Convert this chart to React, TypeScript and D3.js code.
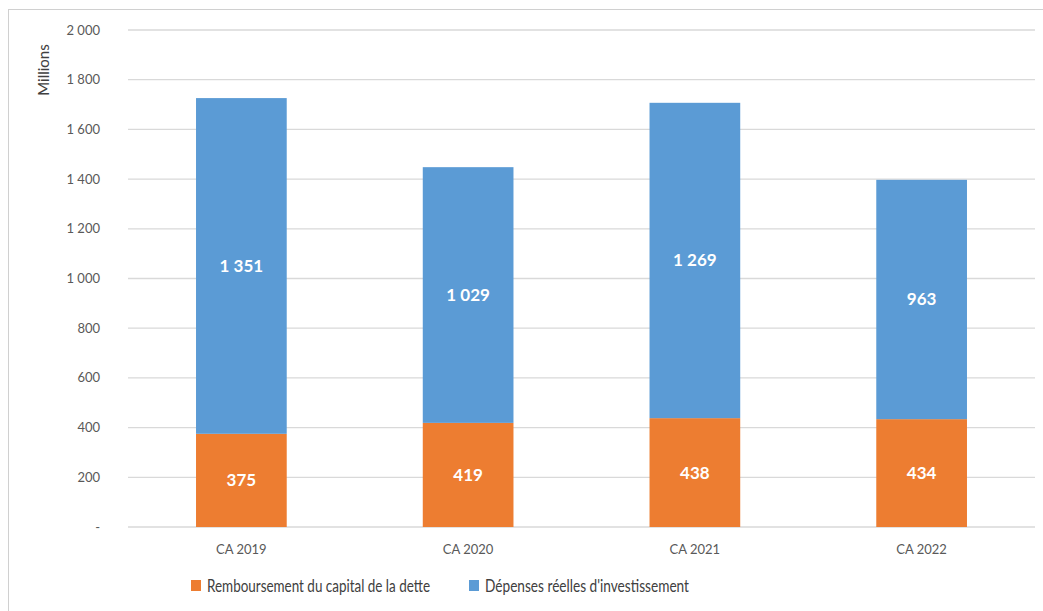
import React from 'react';
import * as d3 from 'd3';

const categories = ['CA 2019', 'CA 2020', 'CA 2021', 'CA 2022'];
const remboursement = [375, 419, 438, 434];
const depenses = [1351, 1029, 1269, 963];
const yTicks = [0, 200, 400, 600, 800, 1000, 1200, 1400, 1600, 1800, 2000];
const seriesNames = ['Remboursement du capital de la dette', "Dépenses réelles d'investissement"];
const colors = ['#ED7D31', '#5B9BD5'];

const W = 1043;
const H = 611;
const FONT = 'Lato, "Open Sans", sans-serif';

// french style thousands: "1 351"
const fmt = (v: number) => (v === 0 ? '-' : d3.format(',')(v).replace(/,/g, ' '));

export default function App() {
    const x = d3.scaleBand().domain(categories).range([128, 1035]).paddingInner(0.6).paddingOuter(0.3);
    const y = d3.scaleLinear().domain([0, 2000]).range([527, 30]);

    const rows = categories.map((c, i) => ({ cat: c, r: remboursement[i], d: depenses[i] }));
    const stacked = d3.stack<any>().keys(['r', 'd'])(rows);

    // legend: x position and text width
    const legend = [
        { x: 191, w: 223 },
        { x: 469, w: 204 },
    ];

    return (
        <svg width={W} height={H} style={{ position: 'absolute', left: 0, top: 0, background: '#fff' }}>
            <rect x={8.5} y={9.5} width={W} height={H} fill="#fff" stroke="#d0d0d0" />
            {yTicks.map(t => (
                <g key={t}>
                    <line x1={128} x2={1035} y1={y(t)} y2={y(t)} stroke="#d9d9d9" strokeWidth={1.3} />
                    <text x={100} y={y(t)} dy="0.35em" textAnchor="end" fontFamily={FONT} fontSize={13} fill="#595959">
                        {fmt(t)}
                    </text>
                </g>
            ))}
            <text transform="translate(49,70) rotate(-90)" textAnchor="middle" fontFamily={FONT} fontSize={15} fill="#404040">
                Millions
            </text>
            {stacked.map((s, si) => (
                <g key={si}>
                    {s.map((p, i) => (
                        <g key={i}>
                            <rect
                                x={x(categories[i])}
                                width={x.bandwidth()}
                                y={y(p[1])}
                                height={y(p[0]) - y(p[1])}
                                fill={colors[si]}
                            />
                            <text
                                x={(x(categories[i]) as number) + x.bandwidth() / 2}
                                y={y((p[0] + p[1]) / 2)}
                                dy="0.35em"
                                textAnchor="middle"
                                fontFamily={FONT}
                                fontWeight="bold"
                                fontSize={17}
                                fill="#fff"
                            >
                                {fmt(p[1] - p[0])}
                            </text>
                        </g>
                    ))}
                </g>
            ))}
            {categories.map(c => (
                <text key={c} x={(x(c) as number) + x.bandwidth() / 2} y={549} dy="0.35em" textAnchor="middle"
                    fontFamily={FONT} fontSize={13} fill="#595959">
                    {c}
                </text>
            ))}
            {seriesNames.map((n, i) => {
                const { x: lx, w } = legend[i];
                return (
                    <g key={n}>
                        <rect x={lx} y={580} width={10} height={11} fill={colors[i]} />
                        <text x={lx + 16} y={586} dy="0.35em" fontFamily={FONT} fontSize={17} fill="#404040"
                            textLength={w} lengthAdjust="spacingAndGlyphs">
                            {n}
                        </text>
                    </g>
                );
            })}
        </svg>
    );
}
